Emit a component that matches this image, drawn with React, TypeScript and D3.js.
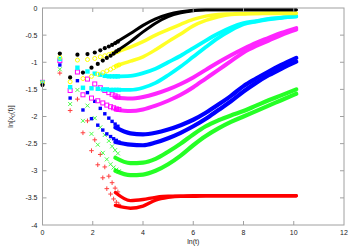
import React from "react"
import * as d3 from "d3"

// ln(t) of the sparse early points (t = 2,4,...,20 and t = 3,5,...,21)
const lnTEven = [0.69, 1.39, 1.79, 2.08, 2.3, 2.48, 2.64, 2.77, 2.89, 3.0]
const lnTOdd = [1.1, 1.61, 1.95, 2.2, 2.4, 2.56, 2.71, 2.83, 2.94, 3.04]

// ln(t) where the dense part of each series is read
const bandX = [2.9, 3.5, 4, 4.5, 5, 5.5, 6, 6.5, 7, 7.5, 8, 8.5, 9, 9.5, 10.1]

const names = ["black", "yellow", "cyan", "magenta", "blue", "green", "red"]
const colours = ["#000000", "#ffff00", "#00ffff", "#ff00ff", "#0000ff", "#00ff00", "#ff0000"]
const shapes = ["dot", "circle", "square", "openSquare", "smallSquare", "cross", "plus"]

// value at t = 1
const startY = [-1.42, -1.38, -1.37, -1.37, -1.38, -1.38, -1.38]

const evenY = [
    [-0.84, -0.86, -0.85, -0.82, -0.78, -0.74, -0.71, -0.68, -0.65, -0.62],
    [-0.91, -0.96, -0.95, -0.93, -0.9, -0.88, -0.86, -0.84, -0.82, -0.8],
    [-0.94, -1.1, -1.17, -1.21, -1.23, -1.25, -1.26, -1.26, -1.26, -1.26],
    [-0.97, -1.18, -1.31, -1.4, -1.47, -1.52, -1.56, -1.59, -1.62, -1.64],
    [-1.05, -1.34, -1.56, -1.72, -1.85, -1.95, -2.03, -2.09, -2.14, -2.18],
    [-1.13, -1.51, -1.8, -2.03, -2.2, -2.34, -2.45, -2.55, -2.62, -2.68],
    [-1.2, -1.68, -2.08, -2.43, -2.7, -2.93, -3.1, -3.22, -3.32, -3.39],
]

const oddY = [
    [-1.28, -1.19, -1.1, -1.03, -0.97, -0.92, -0.88, -0.84, -0.8, -0.77],
    [-1.36, -1.3, -1.26, -1.22, -1.19, -1.16, -1.13, -1.1, -1.07, -1.05],
    [-1.46, -1.47, -1.48, -1.49, -1.5, -1.5, -1.51, -1.51, -1.51, -1.51],
    [-1.52, -1.6, -1.66, -1.71, -1.75, -1.79, -1.82, -1.84, -1.86, -1.87],
    [-1.66, -1.88, -2.04, -2.16, -2.25, -2.32, -2.37, -2.41, -2.44, -2.47],
    [-1.77, -2.08, -2.32, -2.52, -2.67, -2.79, -2.88, -2.94, -2.98, -3.01],
    [-1.89, -2.3, -2.63, -2.89, -3.13, -3.33, -3.43, -3.52, -3.58, -3.62],
]

// dense part, read at bandX
const bandUpper = [
    [-0.64, -0.47, -0.32, -0.2, -0.12, -0.07, -0.04, -0.03, -0.03, -0.03, -0.03, -0.03, -0.03, -0.03, -0.03],
    [-0.82, -0.72, -0.62, -0.5, -0.4, -0.3, -0.21, -0.15, -0.12, -0.11, -0.1, -0.1, -0.09, -0.09, -0.09],
    [-1.26, -1.25, -1.2, -1.12, -1.0, -0.88, -0.74, -0.6, -0.47, -0.36, -0.28, -0.24, -0.2, -0.18, -0.15],
    [-1.65, -1.67, -1.64, -1.58, -1.5, -1.4, -1.28, -1.14, -1.0, -0.87, -0.75, -0.64, -0.55, -0.46, -0.37],
    [-2.2, -2.31, -2.33, -2.3, -2.24, -2.16, -2.06, -1.93, -1.78, -1.62, -1.44, -1.3, -1.17, -1.05, -0.92],
    [-2.76, -2.86, -2.85, -2.78, -2.65, -2.5, -2.33, -2.18, -2.07, -1.98, -1.9, -1.8, -1.7, -1.61, -1.5],
    [-3.4, -3.55, -3.53, -3.49, -3.47, -3.47, -3.46, -3.46, -3.46, -3.46, -3.46, -3.46, -3.46, -3.46, -3.46],
]

const bandLower = [
    [-0.81, -0.62, -0.44, -0.28, -0.16, -0.09, -0.05, -0.03, -0.03, -0.03, -0.03, -0.03, -0.03, -0.03, -0.03],
    [-1.07, -0.98, -0.9, -0.77, -0.62, -0.48, -0.33, -0.23, -0.16, -0.12, -0.11, -0.1, -0.1, -0.1, -0.1],
    [-1.51, -1.51, -1.47, -1.38, -1.24, -1.08, -0.9, -0.72, -0.55, -0.41, -0.3, -0.25, -0.21, -0.18, -0.16],
    [-1.87, -1.9, -1.87, -1.8, -1.71, -1.6, -1.46, -1.3, -1.14, -0.98, -0.82, -0.7, -0.6, -0.5, -0.4],
    [-2.47, -2.52, -2.53, -2.48, -2.4, -2.3, -2.18, -2.04, -1.88, -1.72, -1.54, -1.38, -1.24, -1.12, -0.99],
    [-3.0, -3.08, -3.07, -3.0, -2.88, -2.72, -2.53, -2.36, -2.22, -2.1, -2.0, -1.9, -1.8, -1.7, -1.58],
    [-3.64, -3.69, -3.65, -3.54, -3.49, -3.47, -3.47, -3.46, -3.46, -3.46, -3.46, -3.46, -3.46, -3.46, -3.46],
]

const bandWidth = [3, 3.5, 3.8, 4, 4.2, 4.2, 3.4]

const xTicks = [0, 2, 4, 6, 8, 10, 12]
const yTicks = [0, -0.5, -1, -1.5, -2, -2.5, -3, -3.5, -4]

const W = 354
const H = 248
const margin = { left: 42.5, right: 10, top: 8, bottom: 23 }
const font = "'Liberation Sans', Arial, sans-serif"
const frameColour = "#a0a0a0"

const Marker = ({ shape, cx, cy, colour }: { shape: string; cx: number; cy: number; colour: string }) => {
    switch (shape) {
        case "dot":
            return <circle cx={cx} cy={cy} r={2.1} fill={colour} />
        case "circle":
            return <circle cx={cx} cy={cy} r={2} fill="none" stroke={colour} strokeWidth={1} />
        case "square":
            return <rect x={cx - 2.2} y={cy - 2.2} width={4.4} height={4.4} fill={colour} />
        case "openSquare":
            return <rect x={cx - 2} y={cy - 2} width={4} height={4} fill="none" stroke={colour} strokeWidth={1} />
        case "smallSquare":
            return <rect x={cx - 1.7} y={cy - 1.7} width={3.4} height={3.4} fill={colour} />
        case "cross":
            return (
                <path
                    d={`M${cx - 2},${cy - 2}L${cx + 2},${cy + 2}M${cx - 2},${cy + 2}L${cx + 2},${cy - 2}`}
                    stroke={colour}
                    strokeWidth={1}
                    opacity={0.7}
                />
            )
        default:
            return (
                <path
                    d={`M${cx - 2.3},${cy}L${cx + 2.3},${cy}M${cx},${cy - 2.3}L${cx},${cy + 2.3}`}
                    stroke={colour}
                    strokeWidth={1}
                    opacity={0.75}
                />
            )
    }
}

export default function App() {
    const x = d3.scaleLinear().domain([0, 12]).range([margin.left, W - margin.right])
    const y = d3.scaleLinear().domain([-4, 0]).range([H - margin.bottom, margin.top])

    const line = d3
        .line<[number, number]>()
        .x((d) => x(d[0]))
        .y((d) => y(d[1]))
        .curve(d3.curveMonotoneX)

    const x0 = x(0)
    const x1 = x(12)
    const y0 = y(-4)
    const y1 = y(0)

    const order = d3.range(names.length).reverse()

    return (
        <svg
            width={W}
            height={H}
            style={{ position: "absolute", left: 0, top: 0, background: "#fff" }}
            fontFamily={font}
        >
            <rect x={0} y={0} width={W} height={H} fill="#fff" />

            {/* dense bands */}
            {order.map((i) => {
                const lighter = shapes[i] === "circle" || shapes[i] === "openSquare" || shapes[i] === "cross"
                return (
                    <g key={"band" + names[i]} opacity={lighter ? 0.85 : 1}>
                        {[bandUpper[i], bandLower[i]].map((vals, k) => (
                            <path
                                key={k}
                                d={line(bandX.map((bx, j) => [bx, vals[j]] as [number, number])) || ""}
                                fill="none"
                                stroke={colours[i]}
                                strokeWidth={bandWidth[i]}
                                strokeLinecap="round"
                            />
                        ))}
                    </g>
                )
            })}

            {/* sparse early points */}
            {order.map((i) => (
                <g key={"pts" + names[i]}>
                    <Marker shape={shapes[i]} cx={x(0)} cy={y(startY[i])} colour={colours[i]} />
                    {lnTEven.map((lx, j) => (
                        <Marker key={"e" + j} shape={shapes[i]} cx={x(lx)} cy={y(evenY[i][j])} colour={colours[i]} />
                    ))}
                    {lnTOdd.map((lx, j) => (
                        <Marker key={"o" + j} shape={shapes[i]} cx={x(lx)} cy={y(oddY[i][j])} colour={colours[i]} />
                    ))}
                </g>
            ))}

            {/* frame and ticks */}
            <rect x={x0} y={y1} width={x1 - x0} height={y0 - y1} fill="none" stroke={frameColour} strokeWidth={1} />
            {xTicks.map((t) => (
                <g key={"xt" + t}>
                    {t > 0 && t < 12 && (
                        <>
                            <line x1={x(t)} x2={x(t)} y1={y0} y2={y0 - 4} stroke={frameColour} />
                            <line x1={x(t)} x2={x(t)} y1={y1} y2={y1 + 4} stroke={frameColour} />
                        </>
                    )}
                    <text x={x(t)} y={y0 + 10} fontSize={7} textAnchor="middle" fill="#222">
                        {t}
                    </text>
                </g>
            ))}
            {yTicks.map((t) => (
                <g key={"yt" + t}>
                    {t > -4 && t < 0 && (
                        <>
                            <line x1={x0} x2={x0 + 4} y1={y(t)} y2={y(t)} stroke={frameColour} />
                            <line x1={x1} x2={x1 - 4} y1={y(t)} y2={y(t)} stroke={frameColour} />
                        </>
                    )}
                    <text x={x0 - 5} y={y(t) + 2.5} fontSize={7} textAnchor="end" fill="#222">
                        {t}
                    </text>
                </g>
            ))}

            <text x={(x0 + x1) / 2} y={H - 4.5} fontSize={7} textAnchor="middle" fill="#222">
                ln(t)
            </text>
            <text
                transform={`translate(13,${(y0 + y1) / 2}) rotate(-90)`}
                fontSize={7}
                textAnchor="middle"
                fill="#222"
            >
                ln[x
                <tspan fontSize={5} dy={1.5}>
                    0
                </tspan>
                <tspan dy={-1.5}>(t)]</tspan>
            </text>
        </svg>
    )
}
